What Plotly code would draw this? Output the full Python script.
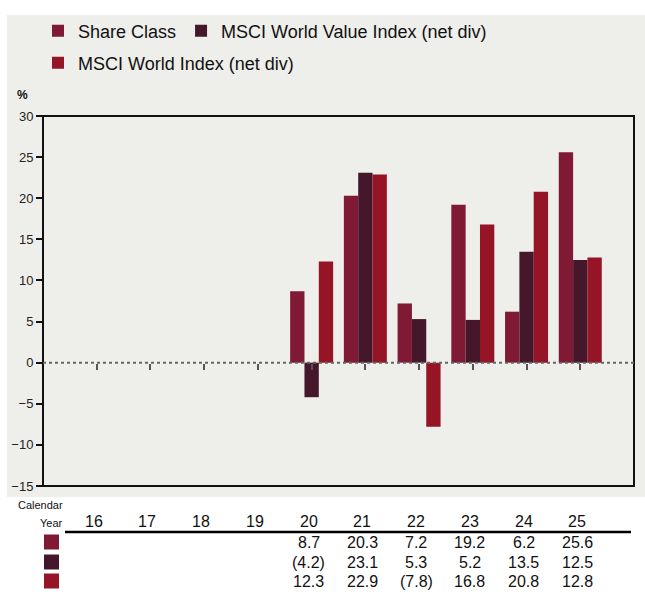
import plotly.graph_objects as go

# ---------------- data ----------------
years = ["16", "17", "18", "19", "20", "21", "22", "23", "24", "25"]
share_class = [None, None, None, None, 8.7, 20.3, 7.2, 19.2, 6.2, 25.6]
value_index = [None, None, None, None, -4.2, 23.1, 5.3, 5.2, 13.5, 12.5]
world_index = [None, None, None, None, 12.3, 22.9, -7.8, 16.8, 20.8, 12.8]
series_names = ["Share Class", "MSCI World Value Index (net div)", "MSCI World Index (net div)"]
series_colors = ["#7F1934", "#44172A", "#951426"]
y_ticks = [-15, -10, -5, 0, 5, 10, 15, 20, 25, 30]

# ---------------- geometry (pixels) ----------------
FW, FH = 645, 592
L, R, T, B = 43, 634, 116, 486
PW, PH = R - L, B - T

def px_x(x):
    return (x - L) / PW

def px_y(y):
    return (B - y) / PH

FONT = "Liberation Sans, Arial, Helvetica, sans-serif"
GREY = "#EEEEEA"

fig = go.Figure()
all_series = [share_class, value_index, world_index]
legends = ["legend", "legend", "legend2"]
for name, vals, col, lg in zip(series_names, all_series, series_colors, legends):
    fig.add_trace(go.Bar(x=years, y=vals, name=name, marker_color=col,
                         marker_line_width=0, legend=lg))

def fmt(v):
    if v is None:
        return ""
    return f"({abs(v):.1f})" if v < 0 else f"{v:.1f}"

annotations = []
# year row (x given as category index)
for i, yr in enumerate(years):
    annotations.append(dict(x=i, xref="x", y=px_y(521), yref="paper", text=yr,
                            showarrow=False, xanchor="center", yanchor="middle",
                            xshift=-3, font=dict(family=FONT, size=16, color="#111")))
row_y = [542, 562, 581]
for vals, ry in zip(all_series, row_y):
    for i, v in enumerate(vals):
        t = fmt(v)
        if t:
            annotations.append(dict(x=i, xref="x", y=px_y(ry), yref="paper", text=t,
                                    showarrow=False, xanchor="center", yanchor="middle",
                                    xshift=-3, font=dict(family=FONT, size=16, color="#111")))
annotations.append(dict(x=px_x(65), xref="paper", y=px_y(505), yref="paper", text="Calendar",
                        showarrow=False, xanchor="right", yanchor="middle",
                        font=dict(family=FONT, size=11, color="#111")))
annotations.append(dict(x=px_x(65), xref="paper", y=px_y(523), yref="paper", text="Year",
                        showarrow=False, xanchor="right", yanchor="middle",
                        font=dict(family=FONT, size=11, color="#111")))
annotations.append(dict(x=px_x(22), xref="paper", y=px_y(95), yref="paper", text="<b>%</b>",
                        showarrow=False, xanchor="center", yanchor="middle",
                        font=dict(family=FONT, size=12, color="#111")))

shapes = [
    # grey panel
    dict(type="rect", xref="paper", yref="paper", x0=px_x(7), x1=px_x(646),
         y0=px_y(497), y1=px_y(15), fillcolor=GREY, line_width=0, layer="below"),
    # plot frame
    dict(type="rect", xref="paper", yref="paper", x0=0, x1=1, y0=0, y1=1,
         line=dict(color="#111", width=2), layer="above"),
    # dotted zero line
    dict(type="line", xref="paper", yref="y", x0=0, x1=1, y0=0, y1=0,
         line=dict(color="#666", width=2, dash="dot"), layer="above"),
    # table rule
    dict(type="line", xref="paper", yref="paper", x0=px_x(65), x1=px_x(631),
         y0=px_y(532), y1=px_y(532), line=dict(color="#000", width=2.5)),
]
for col, ry in zip(series_colors, row_y):
    shapes.append(dict(type="rect", xref="paper", yref="paper",
                       x0=px_x(44), x1=px_x(59), y0=px_y(ry + 7.5), y1=px_y(ry - 7.5),
                       fillcolor=col, line_width=0))

fig.update_layout(
    width=FW, height=FH, autosize=False,
    margin=dict(l=L, r=FW - R, t=T, b=FH - B, pad=0),
    paper_bgcolor="white", plot_bgcolor="rgba(0,0,0,0)",
    barmode="group", bargap=0.2, bargroupgap=0,
    font=dict(family=FONT, size=13, color="#111"),
    xaxis=dict(type="category", categoryorder="array", categoryarray=years,
               range=[-1, len(years)], anchor="free", position=15 / 45,
               showticklabels=False, ticks="outside", ticklen=6, tickwidth=1.5,
               tickcolor="#555", showline=False, showgrid=False, zeroline=False,
               fixedrange=True),
    yaxis=dict(range=[-15, 30], tickvals=y_ticks, ticks="outside", ticklen=6,
               tickwidth=1.5, tickcolor="#111", showline=False, showgrid=False,
               zeroline=False, tickfont=dict(family=FONT, size=13, color="#222"),
               fixedrange=True),
    legend=dict(orientation="h", xref="container", yref="container",
                x=38 / FW, y=1 - 31 / FH, xanchor="left", yanchor="middle",
                bgcolor="rgba(0,0,0,0)", font=dict(family=FONT, size=18, color="#111"),
                itemclick=False, itemdoubleclick=False),
    legend2=dict(orientation="h", xref="container", yref="container",
                 x=38 / FW, y=1 - 63 / FH, xanchor="left", yanchor="middle",
                 bgcolor="rgba(0,0,0,0)", font=dict(family=FONT, size=18, color="#111"),
                 itemclick=False, itemdoubleclick=False),
    annotations=annotations,
    shapes=shapes,
)

fig.write_html("out.html", config={"responsive": False, "displayModeBar": False},
               post_script="document.body.style.margin='0';document.body.style.overflow='hidden';")
